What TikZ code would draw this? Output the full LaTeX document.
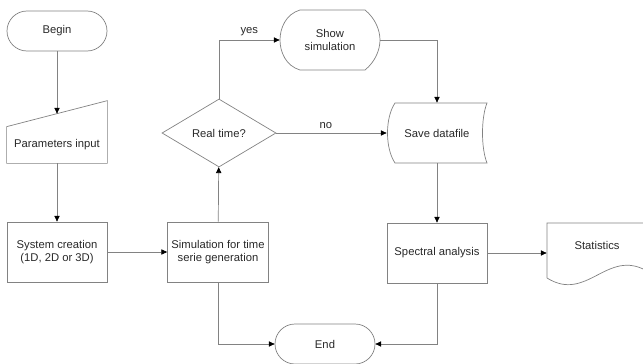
\documentclass[tikz,border=0pt]{standalone}
\usepackage{fontspec}
\setmainfont{Liberation Sans}
\usetikzlibrary{shapes.geometric,arrows.meta,calc}
\definecolor{flowline}{RGB}{130,130,130}
\definecolor{flowtext}{RGB}{40,40,40}
\tikzset{
  terminal/.style={draw=flowline, rounded corners=0.6cm, minimum width=3cm, minimum height=1.2cm},
  process/.style={draw=flowline, minimum width=3cm, minimum height=1.8cm, align=center},
  decision/.style={draw=flowline, diamond, aspect=1.68, minimum width=3.42cm, minimum height=2.04cm, inner sep=0pt},
  plain/.style={minimum width=3cm, align=center},
  outline/.style={draw=flowline},
  flow/.style={draw=flowline, -{Triangle[length=5pt,width=4.5pt,color=black]}}
}
\begin{document}
\begin{tikzpicture}[x=0.03cm, y=0.03cm, font=\fontsize{9.6}{11}\selectfont, text=flowtext, line width=0.6pt]
\useasboundingbox (0,0) rectangle (643,-363);

\node[terminal] (begin) at (57,-31) {Begin};
\node[plain, minimum height=1.08cm] (params) at (57,-145) {Parameters input};
\draw[outline] (params.south west) -- (params.south east) -- ($(params.north east)+(0,26)$) -- (params.north west) -- cycle;
\coordinate (paramsin) at ($(params.north)+(0,13)$);
\node[process] (system) at (57,-252) {System creation\\(1D, 2D or 3D)};
\node[process] (simul) at (218,-252) {Simulation for time\\serie generation};
\node[decision] (realtime) at (219,-133) {Real time?};

\node[plain, minimum height=1.8cm] (show) at (330,-40) {Show\\simulation};
\draw[outline, shift={(show.center)}] (-30,30) -- (35,30)
.. controls (45,22) and (50,10) .. (50,0)
.. controls (50,-10) and (45,-22) .. (35,-30) -- (-30,-30)
.. controls (-44,-26) and (-50,-12) .. (-50,0)
.. controls (-50,12) and (-44,26) .. (-30,30) -- cycle;

\node[plain, minimum height=1.8cm] (save) at (437,-133) {Save datafile};
\draw[outline, shift={(save.center)}] (-42,30) -- (50,30)
.. controls (44,15) and (44,-15) .. (50,-30) -- (-42,-30)
.. controls (-52,-15) and (-52,15) .. (-42,30) -- cycle;

\node[process] (spectral) at (437,-253) {Spectral analysis};
\node[plain, minimum height=1.32cm] (stats) at (597,-245) {Statistics};
\draw[outline, shift={(stats.center)}] (-50,-33) -- (-50,22) -- (50,22) -- (50,-26)
.. controls (10,-3) and (-10,-58) .. (-50,-33);
\node[terminal] (end) at (325,-344) {End};

\draw[flow] (begin) -- (paramsin);
\draw[flow] (params) -- (system);
\draw[flow] (system) -- (simul);
\draw[flow] (simul) -- (realtime);
\draw[flow] (realtime) |- node[pos=0.75, above] {yes} (show);
\draw[flow] (realtime) -- node[pos=0.45, above] {no} (save);
\draw[flow] (show) -| (save);
\draw[flow] (save) -- (spectral);
\draw[flow] (spectral) -- (spectral -| stats.west);
\draw[flow] (simul) |- (end);
\draw[flow] (spectral) |- (end);
\end{tikzpicture}
\end{document}
